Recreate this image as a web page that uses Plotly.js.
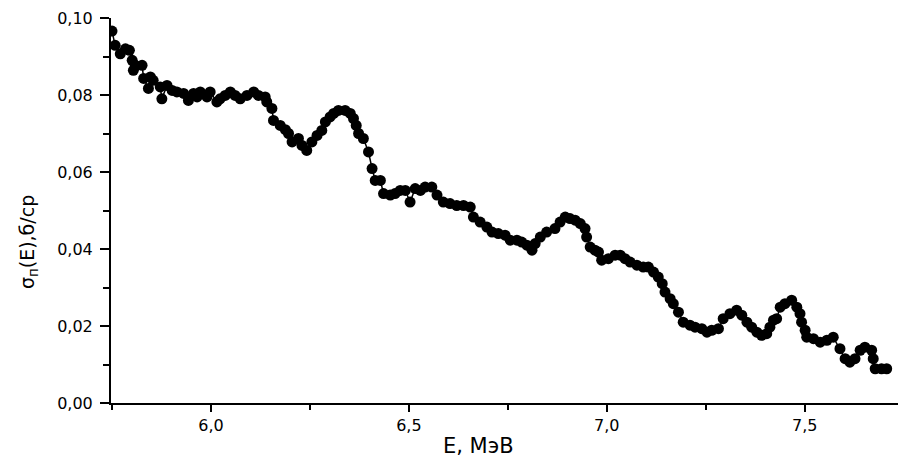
<!DOCTYPE html>
<html>
<head>
<meta charset="utf-8">
<script src="https://cdn.plot.ly/plotly-3.0.1.min.js"></script>
<style>html,body{margin:0;padding:0;background:#fff;}#chart{width:898px;height:468px;}</style>
</head>
<body>
<div id="chart"></div>
<script>
// Energy, MeV
const energy = [
 5.750, 5.758, 5.771, 5.784, 5.794, 5.801, 5.804, 5.809, 5.826, 5.830,
 5.842, 5.847, 5.854, 5.872, 5.876, 5.889, 5.902, 5.914, 5.931, 5.943,
 5.956, 5.965, 5.973, 5.990, 5.998, 6.015, 6.023, 6.036, 6.049, 6.061,
 6.074, 6.091, 6.108, 6.120, 6.137, 6.141, 6.154, 6.158, 6.175, 6.188,
 6.196, 6.205, 6.221, 6.230, 6.242, 6.255, 6.268, 6.280, 6.289, 6.301,
 6.310, 6.322, 6.339, 6.352, 6.360, 6.367, 6.373, 6.385, 6.398, 6.407,
 6.415, 6.428, 6.436, 6.453, 6.465, 6.478, 6.491, 6.503, 6.516, 6.529,
 6.541, 6.558, 6.571, 6.587, 6.604, 6.621, 6.638, 6.655, 6.663, 6.680,
 6.697, 6.710, 6.726, 6.743, 6.756, 6.773, 6.785, 6.798, 6.811, 6.819,
 6.832, 6.848, 6.869, 6.882, 6.895, 6.907, 6.920, 6.933, 6.945, 6.949,
 6.958, 6.970, 6.979, 6.987, 7.004, 7.021, 7.034, 7.046, 7.059, 7.076,
 7.092, 7.105, 7.118, 7.130, 7.140, 7.147, 7.160, 7.168, 7.181, 7.193,
 7.210, 7.223, 7.240, 7.253, 7.265, 7.282, 7.294, 7.311, 7.328, 7.341,
 7.354, 7.366, 7.379, 7.391, 7.404, 7.412, 7.421, 7.429, 7.438, 7.450,
 7.467, 7.480, 7.488, 7.492, 7.501, 7.505, 7.522, 7.539, 7.556, 7.572,
 7.589, 7.602, 7.614, 7.627, 7.640, 7.652, 7.669, 7.673, 7.678, 7.694,
 7.707
];
// Cross-section sigma_n(E), b/sr
const sigma = [
 0.0966, 0.0929, 0.0907, 0.0920, 0.0916, 0.0890, 0.0864, 0.0877, 0.0877, 0.0843,
 0.0817, 0.0847, 0.0838, 0.0821, 0.0790, 0.0825, 0.0812, 0.0808, 0.0804, 0.0786,
 0.0804, 0.0795, 0.0808, 0.0795, 0.0808, 0.0782, 0.0790, 0.0799, 0.0808, 0.0799,
 0.0790, 0.0799, 0.0808, 0.0799, 0.0795, 0.0782, 0.0765, 0.0734, 0.0721, 0.0710,
 0.0700, 0.0678, 0.0687, 0.0669, 0.0656, 0.0678, 0.0695, 0.0708, 0.0730, 0.0743,
 0.0752, 0.0760, 0.0760, 0.0752, 0.0739, 0.0721, 0.0700, 0.0687, 0.0652, 0.0609,
 0.0578, 0.0578, 0.0544, 0.0540, 0.0544, 0.0552, 0.0552, 0.0522, 0.0557, 0.0552,
 0.0561, 0.0561, 0.0540, 0.0522, 0.0518, 0.0513, 0.0513, 0.0509, 0.0483, 0.0470,
 0.0457, 0.0444, 0.0440, 0.0436, 0.0423, 0.0423, 0.0418, 0.0410, 0.0397, 0.0414,
 0.0431, 0.0444, 0.0453, 0.0470, 0.0483, 0.0479, 0.0475, 0.0466, 0.0453, 0.0431,
 0.0405, 0.0397, 0.0392, 0.0371, 0.0375, 0.0384, 0.0384, 0.0375, 0.0366, 0.0358,
 0.0353, 0.0353, 0.0340, 0.0327, 0.0310, 0.0288, 0.0271, 0.0258, 0.0236, 0.0210,
 0.0202, 0.0197, 0.0193, 0.0184, 0.0189, 0.0193, 0.0219, 0.0232, 0.0241, 0.0228,
 0.0210, 0.0197, 0.0184, 0.0176, 0.0180, 0.0197, 0.0215, 0.0219, 0.0249, 0.0258,
 0.0267, 0.0249, 0.0232, 0.0210, 0.0189, 0.0171, 0.0167, 0.0158, 0.0163, 0.0171,
 0.0141, 0.0115, 0.0106, 0.0115, 0.0137, 0.0145, 0.0137, 0.0115, 0.0089, 0.0089,
 0.0089
];
const xTickVals = [6.0, 6.5, 7.0, 7.5];
const xTickText = ['6,0', '6,5', '7,0', '7,5'];
const yTickVals = [0, 0.02, 0.04, 0.06, 0.08, 0.10];
const yTickText = ['0,00', '0,02', '0,04', '0,06', '0,08', '0,10'];
const xTitle = 'E, МэВ';
const yTitle = 'σ<sub>п</sub>(E),б/ср';

const trace = {
  x: energy, y: sigma, type: 'scatter', mode: 'lines+markers',
  line: {color: '#000', width: 1.5},
  marker: {color: '#000', size: 11, symbol: 'circle'},
  cliponaxis: true, hoverinfo: 'skip'
};

const tickFont = {family: 'DejaVu Sans, Arial, sans-serif', size: 16, color: '#000'};

const layout = {
  width: 898, height: 468,
  margin: {l: 111, r: 0, t: 18, b: 65, pad: 0},
  paper_bgcolor: '#fff', plot_bgcolor: '#fff',
  showlegend: false,
  separators: ', ',
  xaxis: {
    range: [5.7475, 7.7356], showgrid: false, zeroline: false,
    showline: true, linecolor: '#000', linewidth: 2,
    tickmode: 'array', tickvals: xTickVals, ticktext: xTickText,
    ticks: 'outside', ticklen: 7, tickwidth: 2, tickcolor: '#000',
    minor: {dtick: 0.25, tick0: 5.75, ticks: 'outside', ticklen: 5, tickwidth: 2, tickcolor: '#000'},
    tickfont: tickFont, ticklabelstandoff: 0
  },
  yaxis: {
    range: [0, 0.1], showgrid: false, zeroline: false,
    showline: true, linecolor: '#000', linewidth: 2,
    tickmode: 'array', tickvals: yTickVals, ticktext: yTickText,
    ticks: 'outside', ticklen: 9, tickwidth: 2, tickcolor: '#000',
    minor: {dtick: 0.01, tick0: 0, ticks: 'outside', ticklen: 6, tickwidth: 2, tickcolor: '#000'},
    tickfont: tickFont, ticklabelstandoff: 4
  },
  annotations: [
    {text: xTitle, xref: 'paper', yref: 'paper', x: (478 - 111) / 787, y: -(446 - 403) / 385,
     xanchor: 'center', yanchor: 'middle', showarrow: false,
     font: {family: 'DejaVu Sans, Arial, sans-serif', size: 21, color: '#000'}},
    {text: yTitle, xref: 'paper', yref: 'paper', x: (28 - 111) / 787, y: (403 - 242) / 385,
     xanchor: 'center', yanchor: 'middle', showarrow: false, textangle: -90,
     font: {family: 'DejaVu Sans, Arial, sans-serif', size: 19, color: '#000'}}
  ]
};

Plotly.newPlot('chart', [trace], layout, {staticPlot: true, displayModeBar: false});
</script>
</body>
</html>
